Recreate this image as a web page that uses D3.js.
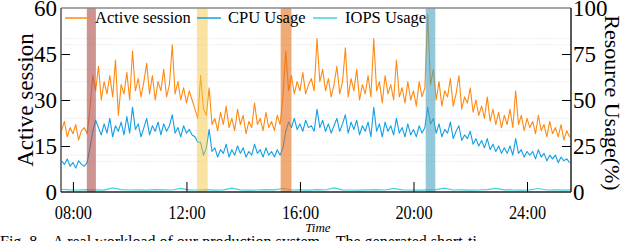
<!DOCTYPE html>
<html lang="en">
<head>
<meta charset="utf-8">
<script src="https://d3js.org/d3.v7.min.js"></script>
<style type="text/css">
body {
  margin: 0;
  background-color: #ffffff;
  font-family: "Liberation Serif", "Times New Roman", serif;
}
.tick text { font-family: "Liberation Serif", "Times New Roman", serif; fill: #000; }
.grid line { stroke: #d8d8d8; stroke-width: 0.8; stroke-dasharray: 1,1.5; }
</style>
</head>
<body>
<script type="text/javascript">

// ---- data ----
// samples every 0.1 h from 07:36 to 25:30
var startHour = 7.6;
var stepHour = 0.1;

var activeSession = [
  20, 23, 18, 21, 19, 22, 17, 20, 21, 19,
  27, 38, 33, 41, 30, 36, 32, 38, 31, 43,
  25, 35, 32, 39, 30, 46, 33, 37, 31, 36,
  42, 32, 38, 30, 36, 33, 40, 31, 35, 48,
  32, 36, 30, 34, 29, 33, 30, 27, 24, 38,
  27, 25, 34, 22, 24, 20, 26, 22, 28, 21,
  24, 20, 27, 22, 25, 19, 23, 21, 29, 22,
  24, 20, 26, 21, 23, 20, 25, 22, 31, 46,
  33, 38, 32, 36, 33, 39, 32, 35, 37, 33,
  50, 36, 40, 33, 37, 31, 35, 41, 32, 36,
  47, 31, 37, 33, 40, 30, 35, 32, 38, 31,
  50, 33, 36, 29, 38, 32, 35, 30, 43, 31,
  34, 29, 36, 30, 33, 28, 36, 31, 34, 58,
  35, 40, 30, 36, 28, 33, 31, 37, 28, 32,
  38, 27, 31, 29, 34, 26, 30, 25, 28, 24,
  31, 23, 27, 22, 26, 21, 25, 22, 27, 21,
  33, 22, 25, 20, 24, 21, 23, 19, 25, 20,
  22, 18, 23, 19, 21, 18, 22, 17, 20, 18
];

var cpuUsage = [
  17, 15, 18, 14, 16, 13, 17, 15, 14, 16,
  24, 33, 39, 35, 31, 37, 32, 40, 30, 36,
  33, 38, 31, 41, 32, 46, 34, 37, 30, 35,
  40, 31, 36, 33, 38, 31, 37, 33, 36, 42,
  32, 35, 30, 36, 32, 34, 31, 30, 27, 27,
  20, 24, 34, 22, 24, 19, 23, 21, 26, 19,
  23, 20, 25, 21, 24, 19, 22, 20, 26, 21,
  23, 19, 24, 20, 22, 19, 23, 20, 24, 33,
  38, 35, 40, 34, 37, 33, 39, 35, 36, 33,
  45, 35, 39, 33, 37, 32, 36, 40, 33, 37,
  42, 32, 38, 34, 39, 31, 36, 33, 38, 30,
  46, 33, 37, 30, 38, 33, 36, 31, 40, 32,
  35, 30, 37, 31, 34, 30, 36, 32, 35, 46,
  37, 40, 32, 37, 30, 34, 32, 38, 29, 33,
  36, 28, 31, 29, 33, 26, 29, 25, 28, 24,
  29, 23, 26, 22, 25, 21, 24, 21, 25, 20,
  29, 21, 23, 19, 22, 20, 22, 18, 23, 19,
  21, 17, 20, 18, 20, 16, 19, 17, 18, 16
];

// IOPS sampled every 0.3 h
var iopsStep = 0.3;
var iopsUsage = [
  1.5, 1.2, 1.1, 1.3, 1.2, 1.0, 2.2, 1.3, 1.1, 1.2,
  1.0, 1.3, 1.2, 1.1, 2.0, 1.2, 1.1, 1.3, 1.0, 1.2,
  2.1, 1.2, 1.0, 1.1, 1.3, 1.2, 1.9, 1.1, 1.2, 1.0,
  1.3, 1.1, 2.2, 1.2, 1.1, 1.0, 1.2, 1.3, 1.1, 2.0,
  1.2, 1.1, 1.0, 1.2, 1.3, 2.1, 1.1, 1.2, 1.0, 1.1,
  1.3, 2.0, 1.2, 1.1, 1.0, 1.2, 1.9, 1.1, 1.2, 1.0, 1.2
];

// highlighted intervals (hours)
var bandStart = [8.49, 12.37, 15.32, 20.43];
var bandEnd   = [8.81, 12.75, 15.70, 20.77];

var xTicks = [8, 12, 16, 20, 24];
var xTickLabels = ["08:00", "12:00", "16:00", "20:00", "24:00"];
var leftTicks = [0, 15, 30, 45, 60];
var rightTicks = [0, 25, 50, 75, 100];
var leftGrid = [10, 20, 30, 40, 50];
var rightGrid = [20, 40, 60, 80];

var seriesNames = ["Active session", "CPU Usage", "IOPS Usage"];

// ---- styles ----
var colors = ["#ff8a12", "#139fe6", "#3fd3dc"];
var bandColors = ["#b0524d", "#f5c842", "#e8701a", "#4aa3c0"];
var bandOpacity = [0.62, 0.5, 0.6, 0.6];

var width = 644, height = 241;
var plotLeft = 61, plotRight = 571, plotTop = 8, plotBottom = 192;

var svg = d3.select("body").append("svg")
  .attr("width", width)
  .attr("height", height);

var x = d3.scaleLinear().domain([7.58, 25.55]).range([plotLeft, plotRight]);
var yL = d3.scaleLinear().domain([0, 60]).range([plotBottom, plotTop]);
var yR = d3.scaleLinear().domain([0, 100]).range([plotBottom, plotTop]);

// grid
var grid = svg.append("g").attr("class", "grid");
grid.selectAll(".gl").data(leftGrid).enter().append("line")
  .attr("x1", plotLeft).attr("x2", plotRight)
  .attr("y1", function(d) { return yL(d); })
  .attr("y2", function(d) { return yL(d); });
grid.selectAll(".gr").data(rightGrid).enter().append("line")
  .attr("x1", plotLeft).attr("x2", plotRight)
  .attr("y1", function(d) { return yR(d); })
  .attr("y2", function(d) { return yR(d); });

svg.append("clipPath").attr("id", "clip")
  .append("rect").attr("x", plotLeft).attr("y", plotTop)
  .attr("width", plotRight - plotLeft).attr("height", plotBottom - plotTop);

var plot = svg.append("g").attr("clip-path", "url(#clip)");

var timeMain = activeSession.map(function(d, i) { return startHour + i * stepHour; });
var timeIops = iopsUsage.map(function(d, i) { return startHour + i * iopsStep; });

var lineL = d3.line().x(function(d) { return x(d[0]); }).y(function(d) { return yL(d[1]); });
var lineR = d3.line().x(function(d) { return x(d[0]); }).y(function(d) { return yR(d[1]); });

plot.append("path")
  .datum(d3.zip(timeIops, iopsUsage))
  .attr("d", lineR)
  .attr("fill", "none").attr("stroke", colors[2]).attr("stroke-width", 1.2);

plot.append("path")
  .datum(d3.zip(timeMain, activeSession))
  .attr("d", lineL)
  .attr("fill", "none").attr("stroke", colors[0]).attr("stroke-width", 1.1)
  .attr("stroke-linejoin", "round");

plot.append("path")
  .datum(d3.zip(timeMain, cpuUsage))
  .attr("d", lineR)
  .attr("fill", "none").attr("stroke", colors[1]).attr("stroke-width", 1.1)
  .attr("stroke-linejoin", "round");

// highlighted bands
plot.selectAll(".band").data(bandStart).enter().append("rect")
  .attr("x", function(d) { return x(d); })
  .attr("width", function(d, i) { return x(bandEnd[i]) - x(d); })
  .attr("y", plotTop).attr("height", plotBottom - plotTop)
  .attr("fill", function(d, i) { return bandColors[i]; })
  .attr("fill-opacity", function(d, i) { return bandOpacity[i]; });

// axes
var xAxis = svg.append("g")
  .attr("transform", "translate(0," + plotBottom + ")")
  .call(d3.axisBottom(x).tickValues(xTicks)
    .tickFormat(function(d, i) { return xTickLabels[i]; })
    .tickSizeInner(-10).tickSizeOuter(0).tickPadding(14));
xAxis.select(".domain").remove();
xAxis.selectAll(".tick text").attr("font-size", 19).attr("transform", "scale(0.86,1)");
xAxis.selectAll(".tick line").attr("stroke", "#000");

var yAxisL = svg.append("g")
  .attr("transform", "translate(" + plotLeft + ",0)")
  .call(d3.axisLeft(yL).tickValues(leftTicks).tickSizeInner(-9).tickSizeOuter(0).tickPadding(4));
yAxisL.select(".domain").remove();
yAxisL.selectAll(".tick text").attr("font-size", 23).attr("dy", "0.34em");
yAxisL.selectAll(".tick line").attr("stroke", "#000")
  .filter(function(d) { return d === 0 || d === 60; }).remove();

var yAxisR = svg.append("g")
  .attr("transform", "translate(" + plotRight + ",0)")
  .call(d3.axisRight(yR).tickValues(rightTicks).tickSizeInner(-9).tickSizeOuter(0).tickPadding(2));
yAxisR.select(".domain").remove();
yAxisR.selectAll(".tick text").attr("font-size", 23).attr("dy", "0.34em");
yAxisR.selectAll(".tick line").attr("stroke", "#000")
  .filter(function(d) { return d === 0 || d === 100; }).remove();

// frame
svg.append("line").attr("x1", plotLeft).attr("x2", plotRight).attr("y1", plotTop).attr("y2", plotTop)
  .attr("stroke", "#8a8a8a").attr("stroke-width", 1.5);
svg.append("line").attr("x1", plotLeft).attr("x2", plotLeft).attr("y1", plotTop).attr("y2", plotBottom)
  .attr("stroke", "#555").attr("stroke-width", 1.5);
svg.append("line").attr("x1", plotRight).attr("x2", plotRight).attr("y1", plotTop).attr("y2", plotBottom)
  .attr("stroke", "#222").attr("stroke-width", 1.5);
svg.append("line").attr("x1", plotLeft).attr("x2", plotRight).attr("y1", plotBottom).attr("y2", plotBottom)
  .attr("stroke", "#222").attr("stroke-width", 1.5);

// axis titles
svg.append("text")
  .attr("transform", "translate(33,100) rotate(-90)")
  .attr("text-anchor", "middle").attr("font-size", 23)
  .text("Active session");
svg.append("text")
  .attr("transform", "translate(605,103) rotate(90)")
  .attr("text-anchor", "middle").attr("font-size", 22)
  .text("Resource Usage(%)");
svg.append("text")
  .attr("x", 318).attr("y", 232)
  .attr("text-anchor", "middle").attr("font-size", 13).attr("font-style", "italic")
  .text("Time");

// caption (cut off by the bottom edge)
svg.append("text")
  .attr("x", 0).attr("y", 247).attr("font-size", 16)
  .attr("xml:space", "preserve")
  .text("Fig. 8.   A real workload of our production system.   The generated short-ti");

// legend
var legendX = [65, 197, 313];
var legendTextX = [95, 228, 345];
var legend = svg.append("g");
seriesNames.forEach(function(name, i) {
  legend.append("line")
    .attr("x1", legendX[i]).attr("x2", legendX[i] + 24)
    .attr("y1", 18).attr("y2", 18)
    .attr("stroke", colors[i]).attr("stroke-width", 1.5);
  legend.append("text")
    .attr("x", legendTextX[i]).attr("y", 23)
    .attr("font-size", 16.5)
    .text(name);
});
</script>
</body>
</html>
